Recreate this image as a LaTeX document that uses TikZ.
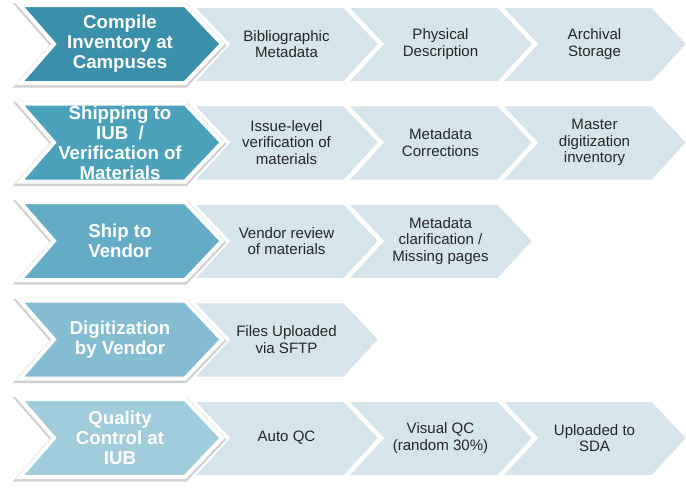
\documentclass[tikz,border=0pt]{standalone}
\usepackage{fontspec}
\setmainfont{Liberation Sans}
\definecolor[named]{LeadA}{RGB}{58,144,170}
\definecolor[named]{LeadB}{RGB}{76,161,186}
\definecolor[named]{LeadC}{RGB}{100,172,197}
\definecolor[named]{LeadD}{RGB}{132,189,209}
\definecolor[named]{LeadE}{RGB}{160,204,220}
\definecolor[named]{StepTint}{RGB}{214,229,236}
\newcommand{\leadpath}[1]{(20,#1) -- (185,#1) -- (222,#1+39) -- (185,#1+78) -- (20,#1+78) -- (54,#1+39) -- cycle}
\newcommand{\steppath}[2]{(#1,#2+2) -- (#1+150,#2+2) -- (#1+185,#2+39) -- (#1+150,#2+77) -- (#1,#2+77) -- (#1+35,#2+39) -- cycle}
\tikzset{
  leadbox/.style={draw=white,line width=3pt,line join=miter},
  leadglow/.style={draw=black,opacity=0.18,line width=5pt,line join=miter},
  stepbox/.style={fill=StepTint,draw=white,line width=1.2pt,line join=miter},
  leadtext/.style={text=white,align=center,font=\fontsize{14}{15}\selectfont\bfseries},
  steptext/.style={text=black!85,align=center,font=\fontsize{11.3}{12.3}\selectfont}
}

\begin{document}
\begin{tikzpicture}[x=0.75pt,y=-0.75pt]
        \useasboundingbox (0,0) rectangle (686,487);
        % light steps behind
        \foreach \t/\n in {5/3,103.5/3,202/2,300.5/1,399/3}
          \foreach \k in {1,...,\n}
            \draw[stepbox] \steppath{40+154*\k}{\t};
        % lead chevrons
        \foreach \t/\c in {5/LeadA,103.5/LeadB,202/LeadC,300.5/LeadD,399/LeadE} {
          \draw[leadglow] [yshift=-1pt] \leadpath{\t};
          \draw[leadbox,fill=\c] \leadpath{\t};
        }
        \node[leadtext] (compile) at (120,44) {Compile\\Inventory at\\Campuses};
        \node[leadtext] (shipping) at (120,142.5) {Shipping to\\IUB\ \ /\\Verification of\\Materials};
        \node[leadtext] (shipvendor) at (120,241) {Ship to\\Vendor};
        \node[leadtext] (digitize) at (120,339.5) {Digitization\\by Vendor};
        \node[leadtext] (quality) at (120,438) {Quality\\Control at\\IUB};
        % step labels
        \node[steptext] (biblio) at (286.5,44) {Bibliographic\\Metadata};
        \node[steptext] (physical) at (440.5,44) {Physical\\Description};
        \node[steptext] (archival) at (594.5,44) {Archival\\Storage};
        \node[steptext] (issue) at (286.5,142.5) {Issue-level\\verification of\\materials};
        \node[steptext] (corrections) at (440.5,142.5) {Metadata\\Corrections};
        \node[steptext] (master) at (594.5,142.5) {Master\\digitization\\inventory};
        \node[steptext] (review) at (286.5,241) {Vendor review\\of materials};
        \node[steptext] (clarify) at (440.5,241) {Metadata\\clarification /\\Missing pages};
        \node[steptext] (sftp) at (286.5,339.5) {Files Uploaded\\via SFTP};
        \node[steptext] (autoqc) at (286.5,438) {Auto QC};
        \node[steptext] (visualqc) at (440.5,438) {Visual QC\\(random 30\%)};
        \node[steptext] (sda) at (594.5,438) {Uploaded to\\SDA};
      \end{tikzpicture}
\end{document}
